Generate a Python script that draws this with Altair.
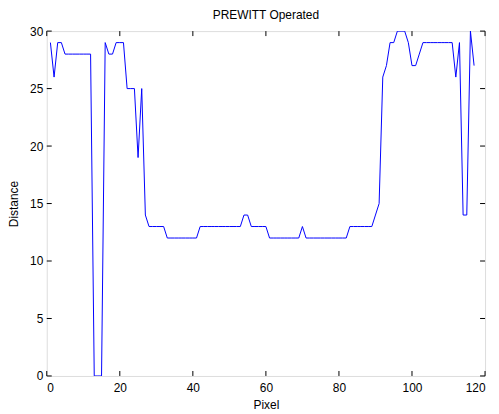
import altair as alt
import pandas as pd

pixel = list(range(1, 118))
distance = [
    29, 26, 29, 29, 28, 28, 28, 28, 28, 28, 28, 28,
    0, 0, 0,
    29, 28, 28, 29, 29, 29,
    25, 25, 25, 19, 25,
    14, 13, 13, 13, 13, 13,
    12, 12, 12, 12, 12, 12, 12, 12, 12,
    13, 13, 13, 13, 13, 13, 13, 13, 13, 13, 13, 13,
    14, 14,
    13, 13, 13, 13, 13,
    12, 12, 12, 12, 12, 12, 12, 12, 12,
    13,
    12, 12, 12, 12, 12, 12, 12, 12, 12, 12, 12, 12,
    13, 13, 13, 13, 13, 13, 13,
    14, 15,
    26, 27, 29, 29, 30, 30, 30, 29, 27, 27, 28,
    29, 29, 29, 29, 29, 29, 29, 29, 29,
    26, 29, 14, 14, 30, 27,
]

x_ticks = [0, 20, 40, 60, 80, 100, 120]
y_ticks = [0, 5, 10, 15, 20, 25, 30]

W, H = 441, 347
TL = 5

df = pd.DataFrame({"Pixel": pixel, "Distance": distance})
xt = pd.DataFrame({"Pixel": x_ticks})
yt = pd.DataFrame({"Distance": y_ticks})

xscale = alt.Scale(domain=[0, 120], nice=False)
yscale = alt.Scale(domain=[0, 30], nice=False)

axis_common = dict(domain=False, ticks=False, grid=False, labelFontSize=12,
                   labelColor="black", titleFontSize=12, titleColor="black",
                   titleFontWeight="normal", labelFont="Liberation Sans",
                   titleFont="Liberation Sans")

xaxis = alt.Axis(values=x_ticks, title="Pixel", labelPadding=7,
                 titlePadding=6, **axis_common)
yaxis = alt.Axis(values=y_ticks, title="Distance", labelPadding=4,
                 titlePadding=9, **axis_common)

line = alt.Chart(df).mark_line(color="#0000ff", strokeWidth=1, clip=True).encode(
    x=alt.X("Pixel:Q", scale=xscale, axis=xaxis),
    y=alt.Y("Distance:Q", scale=yscale, axis=yaxis),
)

xb = alt.Chart(xt).mark_rule(color="black", strokeWidth=1).encode(
    x=alt.X("Pixel:Q", scale=xscale, axis=xaxis), y=alt.value(H), y2=alt.value(H - TL))
xtop = alt.Chart(xt).mark_rule(color="black", strokeWidth=1).encode(
    x=alt.X("Pixel:Q", scale=xscale, axis=xaxis), y=alt.value(0), y2=alt.value(TL))
yl = alt.Chart(yt).mark_rule(color="black", strokeWidth=1).encode(
    y=alt.Y("Distance:Q", scale=yscale, axis=yaxis), x=alt.value(0), x2=alt.value(TL))
yr = alt.Chart(yt).mark_rule(color="black", strokeWidth=1).encode(
    y=alt.Y("Distance:Q", scale=yscale, axis=yaxis), x=alt.value(W), x2=alt.value(W - TL))

chart = alt.layer(line, xb, xtop, yl, yr).properties(
    width=W, height=H,
    title=alt.TitleParams("PREWITT Operated", fontSize=12, fontWeight="normal",
                          font="Liberation Sans", color="black", offset=3,
                          frame="group"),
    padding={"left": 39, "top": 22, "right": 6, "bottom": 34},
    autosize=alt.AutoSizeParams(type="none"),
).configure_view(stroke="black", strokeWidth=1.5).configure(background="white")

chart.save("out.html", embed_options={"renderer": "svg", "actions": False})
